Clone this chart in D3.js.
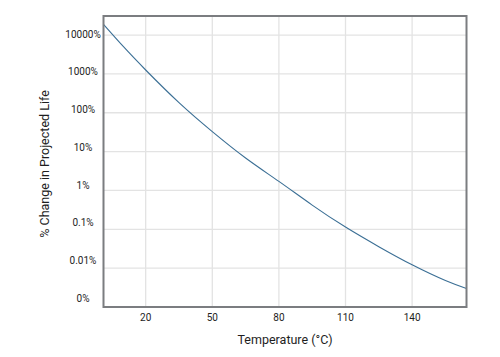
<!DOCTYPE html>
<html>
<head>
<meta charset="utf-8">
<script src="https://cdn.jsdelivr.net/npm/d3@7/dist/d3.min.js"></script>
<style>
  html, body { margin: 0; padding: 0; background: #fff; }
  text { font-family: Roboto, "DejaVu Sans", sans-serif; fill: #1e1e1e; }
</style>
</head>
<body>
<svg id="chart" width="500" height="357"></svg>
<script>
// Data
const temperatures = [1, 10, 20, 35, 50, 65, 80, 95, 110, 125, 140, 155, 164.5];
const lifeChange   = [18800, 5000, 1260, 182, 32.7, 6.85, 1.71, 0.42, 0.114, 0.0357, 0.0122, 0.0048, 0.0030];
const xTicks = [20, 50, 80, 110, 140];
const yTicks = [10000, 1000, 100, 10, 1, 0.1, 0.01, 0.001];
const yTickLabels = ["10000%", "1000%", "100%", "10%", "1%", "0.1%", "0.01%", "0%"];
const xTitle = "Temperature (°C)";
const yTitle = "% Change in Projected Life";

const svg = d3.select("#chart");
const pLeft = 103.5, pRight = 466.5, pTop = 16, pBottom = 307;

const x = d3.scaleLinear().domain([1, 164.5]).range([pLeft, pRight]);
const y = d3.scaleLog().domain([0.001, Math.pow(10, 4.49)]).range([pBottom, pTop]);
// label placement scale (labels sit slightly above grid lines)
const yLab = d3.scaleLog().domain([0.001, 10000]).range([298.5, 34]);

// grid
const grid = svg.append("g");
grid.selectAll("line.v").data(xTicks).join("line")
  .attr("x1", d => x(d)).attr("x2", d => x(d))
  .attr("y1", pTop).attr("y2", pBottom)
  .attr("stroke", "#e3e3e3").attr("stroke-width", 1.3);
grid.selectAll("line.h").data(yTicks.slice(0, -1)).join("line")
  .attr("x1", pLeft).attr("x2", pRight)
  .attr("y1", d => y(d)).attr("y2", d => y(d))
  .attr("stroke", "#e3e3e3").attr("stroke-width", 1.3);

// curve
const pts = temperatures.map((t, i) => [t, lifeChange[i]]);
svg.append("path")
  .datum(pts)
  .attr("fill", "none")
  .attr("stroke", "#3b6f95")
  .attr("stroke-width", 1.1)
  .attr("d", d3.line().x(d => x(d[0])).y(d => y(d[1])).curve(d3.curveNatural));

// frame
svg.append("rect")
  .attr("x", pLeft).attr("y", pTop)
  .attr("width", pRight - pLeft).attr("height", pBottom - pTop)
  .attr("fill", "none").attr("stroke", "#7b7d80").attr("stroke-width", 2);

// y tick labels
svg.selectAll("text.yt").data(yTicks).join("text")
  .attr("class", "yt")
  .attr("x", 83).attr("y", d => yLab(d))
  .attr("text-anchor", "middle").attr("dominant-baseline", "central")
  .attr("font-size", 10)
  .text((d, i) => yTickLabels[i]);

// x tick labels
svg.selectAll("text.xt").data(xTicks).join("text")
  .attr("class", "xt")
  .attr("x", d => x(d)).attr("y", 317)
  .attr("text-anchor", "middle").attr("dominant-baseline", "central")
  .attr("font-size", 10)
  .text(d => d);

// axis titles
svg.append("text")
  .attr("x", (pLeft + pRight) / 2).attr("y", 339.5)
  .attr("text-anchor", "middle").attr("dominant-baseline", "central")
  .attr("font-size", 12.5)
  .text(xTitle);
svg.append("text")
  .attr("transform", "translate(44," + 164 + ") rotate(-90)")
  .attr("text-anchor", "middle").attr("dominant-baseline", "central")
  .attr("font-size", 12.5)
  .text(yTitle);
</script>
</body>
</html>
